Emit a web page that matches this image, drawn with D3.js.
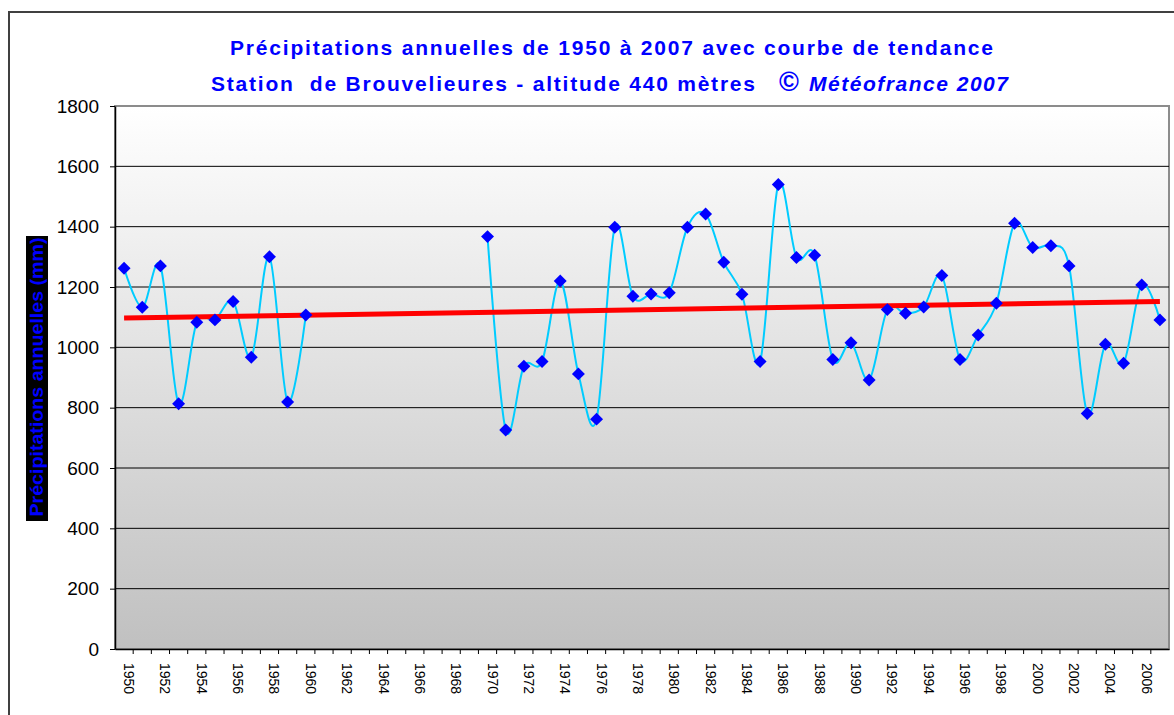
<!DOCTYPE html>
<html><head><meta charset="utf-8">
<script src="https://cdn.jsdelivr.net/npm/d3@7"></script>
<style>
body{margin:0;background:#fff}
svg{display:block}
text{font-family:"Liberation Sans",Arial,sans-serif}
</style>
</head><body>
<svg id="chart" width="1174" height="715"></svg>
<script>
// ---- data ----
const years = [1950,1951,1952,1953,1954,1955,1956,1957,1958,1959,
  1960,1961,1962,1963,1964,1965,1966,1967,1968,1969,
  1970,1971,1972,1973,1974,1975,1976,1977,1978,1979,
  1980,1981,1982,1983,1984,1985,1986,1987,1988,1989,
  1990,1991,1992,1993,1994,1995,1996,1997,1998,1999,
  2000,2001,2002,2003,2004,2005,2006,2007];
const precipitation = [1262,1133,1270,813,1083,1091,1152,967,1300,819,
  1107,null,null,null,null,null,null,null,null,null,
  1367,726,937,953,1220,912,762,1398,1169,1177,
  1181,1398,1442,1282,1176,953,1540,1298,1305,960,
  1015,892,1125,1113,1134,1238,960,1041,1146,1411,
  1331,1337,1270,781,1010,947,1207,1091];
const trendValues = [1097, 1152];           // trend line at 1950 and 2007
const yTickValues = [0,200,400,600,800,1000,1200,1400,1600,1800];
const xLabelYears = [1950,1952,1954,1956,1958,1960,1962,1964,1966,1968,
  1970,1972,1974,1976,1978,1980,1982,1984,1986,1988,1990,1992,1994,
  1996,1998,2000,2002,2004,2006];
const titleLine1 = "Précipitations annuelles de 1950 à 2007 avec courbe de tendance";
const titleLine2a = "Station  de Brouvelieures - altitude 440 mètres";
const titleLine2b = "©";
const titleLine2c = "Météofrance 2007";
const yAxisTitle = "Précipitations annuelles (mm)";

// ---- layout ----
const L = 115, R = 1169, T = 106, B = 649;
const svg = d3.select("#chart");
const x = d3.scaleBand().domain(years).range([L, R]).padding(0);
const y = d3.scaleLinear().domain([0, 1800]).range([B, T]);
const cx = yr => x(yr) + x.bandwidth() / 2;

// outer frame
svg.append("rect").attr("x", 9).attr("y", 12).attr("width", 1300).attr("height", 900)
  .attr("fill", "#fff").attr("stroke", "#404040").attr("stroke-width", 2);

// gradient background
const defs = svg.append("defs");
const grad = defs.append("linearGradient").attr("id", "bg")
  .attr("gradientUnits", "userSpaceOnUse").attr("x1", 0).attr("y1", T).attr("x2", 0).attr("y2", B);
grad.append("stop").attr("offset", "0%").attr("stop-color", "#ffffff");
grad.append("stop").attr("offset", "100%").attr("stop-color", "#c0c0c0");

svg.append("rect").attr("x", L).attr("y", T).attr("width", R - L).attr("height", B - T)
  .attr("fill", "url(#bg)").attr("stroke", "#8c8c8c").attr("stroke-width", 2);

// gridlines
svg.append("g").selectAll("line").data(yTickValues.filter(v => v > 0 && v < 1800)).join("line")
  .attr("x1", L).attr("x2", R).attr("y1", d => y(d)).attr("y2", d => y(d))
  .attr("stroke", "#000").attr("stroke-width", 1);

// y axis
const yAxis = svg.append("g").attr("transform", `translate(${L},0)`)
  .call(d3.axisLeft(y).tickValues(yTickValues).tickFormat(d3.format("d"))
    .tickSize(5).tickPadding(11).tickSizeOuter(0));
yAxis.select(".domain").attr("stroke", "#000").attr("stroke-width", 1.5);
yAxis.selectAll(".tick line").attr("stroke", "#000");
yAxis.selectAll("text").attr("font-size", 19).attr("fill", "#000")
  .attr("font-family", "Liberation Sans, Arial, sans-serif");

// x axis
const xAxis = svg.append("g").attr("transform", `translate(0,${B})`)
  .call(d3.axisBottom(x).tickValues(xLabelYears).tickSize(0).tickSizeOuter(0));
xAxis.select(".domain").attr("stroke", "#000").attr("stroke-width", 1.5);
xAxis.selectAll("text")
  .attr("x", 0).attr("y", 0).attr("dy", 0)
  .attr("text-anchor", "start")
  .attr("transform", "translate(0,14) rotate(90)")
  .attr("font-size", 14).attr("fill", "#000")
  .attr("font-family", "Liberation Sans, Arial, sans-serif");
// category boundary tick marks
svg.append("g").selectAll("line").data(years.slice(1)).join("line")
  .attr("x1", d => x(d)).attr("x2", d => x(d)).attr("y1", B).attr("y2", B + 5)
  .attr("stroke", "#000").attr("stroke-width", 1);

// series
const pts = years.map((yr, i) => ({year: yr, v: precipitation[i]}));
const line = d3.line().defined(d => d.v != null)
  .x(d => cx(d.year)).y(d => y(d.v)).curve(d3.curveCardinal.tension(0));
svg.append("path").datum(pts).attr("d", line)
  .attr("fill", "none").attr("stroke", "#00ccff").attr("stroke-width", 2);

// trend line
svg.append("line")
  .attr("x1", cx(years[0])).attr("x2", cx(years[years.length - 1]))
  .attr("y1", y(trendValues[0])).attr("y2", y(trendValues[1]))
  .attr("stroke", "#ff0000").attr("stroke-width", 5);

// markers
const sym = d3.symbol().type(d3.symbolSquare).size(84);
svg.append("g").selectAll("path").data(pts.filter(d => d.v != null)).join("path")
  .attr("d", sym)
  .attr("transform", d => `translate(${cx(d.year)},${y(d.v)}) rotate(45)`)
  .attr("fill", "#0000ff");

// titles
svg.append("text").attr("x", 230).attr("y", 55).attr("font-size", 21).attr("font-weight", "bold")
  .attr("fill", "#0000ff").attr("textLength", 763).attr("lengthAdjust", "spacing").text(titleLine1);
svg.append("text").attr("x", 211).attr("y", 91).attr("font-size", 21).attr("font-weight", "bold")
  .style("white-space", "pre")
  .attr("fill", "#0000ff").attr("textLength", 544).attr("lengthAdjust", "spacing").text(titleLine2a);
svg.append("text").attr("x", 789).attr("y", 91).attr("font-size", 27).attr("font-weight", "bold")
  .attr("text-anchor", "middle").attr("fill", "#0000ff").text(titleLine2b);
svg.append("text").attr("x", 809).attr("y", 91).attr("font-size", 21).attr("font-weight", "bold")
  .attr("font-style", "italic")
  .attr("fill", "#0000ff").attr("textLength", 199).attr("lengthAdjust", "spacing").text(titleLine2c);

// y axis title
svg.append("rect").attr("x", 26).attr("y", 236).attr("width", 22).attr("height", 285).attr("fill", "#000");
svg.append("text").attr("transform", "translate(43,377) rotate(-90)")
  .attr("text-anchor", "middle").attr("font-size", 18).attr("font-weight", "bold")
  .attr("fill", "#0000ff").attr("textLength", 279).attr("lengthAdjust", "spacingAndGlyphs").text(yAxisTitle);
</script>
</body></html>
